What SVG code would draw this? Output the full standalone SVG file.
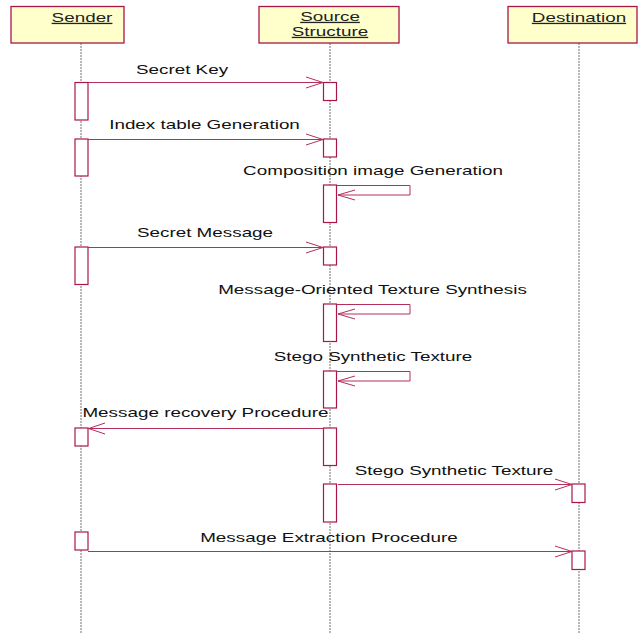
<svg xmlns="http://www.w3.org/2000/svg" width="638" height="634" viewBox="0 0 638 634">
<defs>
<style>
.hdr{fill:#ffffcc;stroke:#a8164a;stroke-width:1.3}
.life{stroke:#707070;stroke-width:1;stroke-dasharray:2 1}
.act{fill:#ffffff;stroke:#a8164a;stroke-width:1.2}
.msg{fill:none;stroke:#b3305e;stroke-width:1}
.head{fill:none;stroke:#b3305e;stroke-width:1}
.t{font-family:"Liberation Sans",Arial,sans-serif;font-size:13px;fill:#111;text-anchor:middle}
.h{font-family:"Liberation Sans",Arial,sans-serif;font-size:13px;fill:#222;text-decoration:underline;text-anchor:middle}
</style>
</defs>
<rect width="638" height="634" fill="#ffffff"/>
<g id="lifelines">
<line class="life" x1="81" y1="43" x2="81" y2="634"/>
<line class="life" x1="330" y1="43" x2="330" y2="634"/>
<line class="life" x1="579" y1="43" x2="579" y2="634"/>
</g>
<g id="sender">
<rect class="hdr" x="11" y="6.5" width="113" height="36.5"/>
<text class="h" transform="matrix(1.45 0 0 1 82 22)">Sender</text>
</g>
<g id="source">
<rect class="hdr" x="259" y="6.5" width="140" height="36.5"/>
<text class="h" transform="matrix(1.45 0 0 1 330 21)">Source </text>
<text class="h" transform="matrix(1.45 0 0 1 330 36)">Structure</text>
</g>
<g id="destination">
<rect class="hdr" x="508" y="6.5" width="129" height="36.5"/>
<text class="h" transform="matrix(1.45 0 0 1 579 22)">Destination</text>
</g>
<g id="activations">
<rect class="act" x="75" y="82.5" width="13" height="37.5"/>
<rect class="act" x="323.5" y="82.5" width="13" height="18"/>
<rect class="act" x="75" y="139" width="13" height="37"/>
<rect class="act" x="323.5" y="139" width="13" height="18"/>
<rect class="act" x="323.5" y="185" width="13" height="37.5"/>
<rect class="act" x="75" y="247" width="13" height="37.5"/>
<rect class="act" x="323.5" y="247" width="13" height="18"/>
<rect class="act" x="323.5" y="304" width="13" height="37.5"/>
<rect class="act" x="323.5" y="371" width="13" height="37"/>
<rect class="act" x="75" y="428" width="13" height="18"/>
<rect class="act" x="323.5" y="428" width="13" height="37.5"/>
<rect class="act" x="323.5" y="484" width="13" height="38"/>
<rect class="act" x="572" y="484" width="13" height="18.5"/>
<rect class="act" x="75" y="532" width="13" height="18"/>
<rect class="act" x="572" y="551" width="13" height="18.5"/>
</g>
<g id="connectors">
<line class="msg" x1="88" y1="82.5" x2="323.5" y2="82.5"/>
<polyline class="head" points="306,77 323,82.5 306,88"/>
<line class="msg" x1="88" y1="139.5" x2="323.5" y2="139.5"/>
<polyline class="head" points="306,134 323,139.5 306,145"/>
<polyline class="msg" points="336.5,185.5 410,185.5 410,195 338,195"/>
<polyline class="head" points="355,190 338,195 355,200"/>
<line class="msg" x1="88" y1="247.5" x2="323.5" y2="247.5"/>
<polyline class="head" points="306,242 323,247.5 306,253"/>
<polyline class="msg" points="336.5,304.5 410,304.5 410,314 338,314"/>
<polyline class="head" points="355,309 338,314 355,319"/>
<polyline class="msg" points="336.5,371.5 410,371.5 410,381 338,381"/>
<polyline class="head" points="355,376 338,381 355,386"/>
<line class="msg" x1="323.5" y1="428.5" x2="88" y2="428.5"/>
<polyline class="head" points="105,423 88.5,428.5 105,434"/>
<line class="msg" x1="338" y1="484.5" x2="572" y2="484.5"/>
<polyline class="head" points="555,479 572,484.5 555,490"/>
<line class="msg" x1="88" y1="551.5" x2="572" y2="551.5"/>
<polyline class="head" points="555,546 572,551.5 555,557"/>
</g>
<g id="labels">
<text class="t" transform="matrix(1.45 0 0 1 182 74)">Secret Key</text>
<text class="t" transform="matrix(1.45 0 0 1 204.5 129)">Index table Generation</text>
<text class="t" transform="matrix(1.45 0 0 1 373 175)">Composition image Generation</text>
<text class="t" transform="matrix(1.45 0 0 1 205 237)">Secret Message</text>
<text class="t" transform="matrix(1.45 0 0 1 372.5 294)">Message-Oriented Texture Synthesis</text>
<text class="t" transform="matrix(1.45 0 0 1 373 360.5)">Stego Synthetic Texture</text>
<text class="t" transform="matrix(1.45 0 0 1 205.5 417)">Message recovery Procedure</text>
<text class="t" transform="matrix(1.45 0 0 1 454 475)">Stego Synthetic Texture</text>
<text class="t" transform="matrix(1.45 0 0 1 329 541.5)">Message Extraction Procedure</text>
</g>
</svg>
